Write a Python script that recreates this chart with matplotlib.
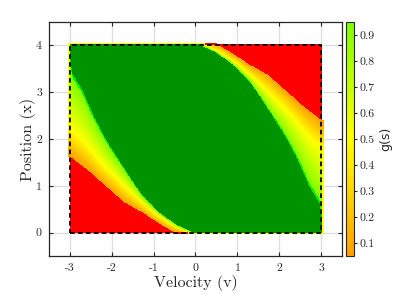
# value function g(s) over velocity / position, with the safe set boundary
import numpy as np
import matplotlib
matplotlib.use('Agg')
import matplotlib.pyplot as plt
from matplotlib.colors import LinearSegmentedColormap, Normalize
from matplotlib.cm import ScalarMappable

# boundaries of the lower-left transition band;
# the upper-right band is the same band turned by 180 degrees
v_red = [-3.0, -2.52, -1.72, -1.24, -0.92, -0.60, -0.50]
x_red = [1.61, 1.28, 0.64, 0.40, 0.21, 0.04, 0.0]
v_yel = [-3.0, -2.96, -2.67, -2.24, -1.39, -1.0, -0.70, -0.31, -0.20]
x_yel = [2.28, 2.18, 1.93, 1.46, 0.72, 0.42, 0.24, 0.03, 0.0]
v_grn = [-3.0, -2.95, -2.71, -2.47, -2.27, -2.07, -1.75, -1.55, -1.27, -0.87, -0.46, -0.06]
x_grn = [3.68, 3.39, 3.03, 2.54, 2.18, 1.86, 1.42, 1.14, 0.78, 0.42, 0.16, 0.0]

# state box
box_v = [-3, 3, 3, -3, -3]
box_x = [0, 0, 4, 4, 0]

xticks = [-3, -2, -1, 0, 1, 2, 3]
xticklabels = ['-3', '-2', '-1', '0', '1', '2', '3']
yticks = [0, 1, 2, 3, 4]
yticklabels = ['0', '1', '2', '3', '4']
cticks = [0.1, 0.2, 0.3, 0.4, 0.5, 0.6, 0.7, 0.8, 0.9]
cticklabels = ['0.1', '0.2', '0.3', '0.4', '0.5', '0.6', '0.7', '0.8', '0.9']


def band(v, x):
    R = np.interp(v, v_red, x_red)
    Y = np.interp(v, v_yel, x_yel)
    G = np.interp(v, v_grn, x_grn)
    lo = 0.05 + 0.45 * (x - R) / np.maximum(Y - R, 1e-6)
    hi = 0.5 + 0.485 * (x - Y) / np.maximum(G - Y, 1e-6)
    return np.where(x < R, 0.0, np.where(x < Y, lo, np.where(x < G, hi, 1.0)))


dv, dx = 0.01, 0.01
vv = np.arange(-3.05, 3.05 + dv / 2, dv)
xx = np.arange(-0.03, 4.03 + dx / 2, dx)
V, X = np.meshgrid(vv, xx)
Vc = np.clip(V, -3, 3)
Xc = np.clip(X, 0, 4)
core = np.minimum(band(Vc, Xc), band(-Vc, 4 - Xc))
outside = (np.abs(V) > 3.0001) | (X < -0.0001) | (X > 4.0001)
edge = np.where(core < 0.05, np.nan, np.minimum(core, 0.5))
field = np.where(outside, edge, core)

red = '#ff0000'
orange = '#ffa000'
yellow = '#ffff00'
chart = '#80ff00'
bright = '#00ee00'
dark = '#009300'
field_cmap = LinearSegmentedColormap.from_list('field', [
    (0.0, red), (0.0499, red), (0.05, orange), (0.5, yellow), (0.95, chart),
    (0.9501, bright), (0.985, bright), (0.9851, dark), (1.0, dark)], N=2048)
field_cmap.set_bad((1, 1, 1, 0))
bar_cmap = LinearSegmentedColormap.from_list('bar', [orange, yellow, chart])

plt.rcParams['font.family'] = 'cmr10'
txt = '#262626'

fig = plt.figure(figsize=(4.01, 2.94), dpi=100)
ax = fig.add_axes([0.122, 0.129, 0.731, 0.796])
ax.imshow(field, origin='lower', cmap=field_cmap, norm=Normalize(0, 1),
          extent=[vv[0] - dv / 2, vv[-1] + dv / 2, xx[0] - dx / 2, xx[-1] + dx / 2],
          interpolation='nearest', aspect='auto', zorder=1)
ax.plot(box_v, box_x, color='black', linestyle=(0, (2.6, 1.8)), linewidth=1.3, zorder=3)

ax.set_xlim(-3.5, 3.5)
ax.set_ylim(-0.5, 4.5)
ax.set_xticks(xticks)
ax.set_xticklabels(xticklabels)
ax.set_yticks(yticks)
ax.set_yticklabels(yticklabels)
ax.grid(True, color='#dedede', linewidth=0.9, zorder=0)
ax.set_axisbelow(True)
ax.tick_params(direction='in', length=3, width=0.8, top=True, right=True,
               labelsize=8.5, colors=txt, pad=5)
for s in ax.spines.values():
    s.set_color(txt)
    s.set_linewidth(0.9)
ax.set_xlabel('Velocity (v)', fontsize=11.5, color=txt, labelpad=2)
ax.set_ylabel('Position (x)', fontsize=11.5, color=txt, labelpad=0)

cax = fig.add_axes([0.863, 0.129, 0.02, 0.796])
cb = fig.colorbar(ScalarMappable(norm=Normalize(0.05, 0.95), cmap=bar_cmap), cax=cax)
cb.set_ticks(cticks)
cb.set_ticklabels(cticklabels)
cb.outline.set_edgecolor(txt)
cb.outline.set_linewidth(0.8)
cax.tick_params(direction='out', length=2, width=0.8, labelsize=8.5, colors=txt, pad=2)
cb.set_label('g(s)', family='DejaVu Sans', fontsize=9, color=txt, labelpad=3)

fig.savefig('out.png', dpi=100)
